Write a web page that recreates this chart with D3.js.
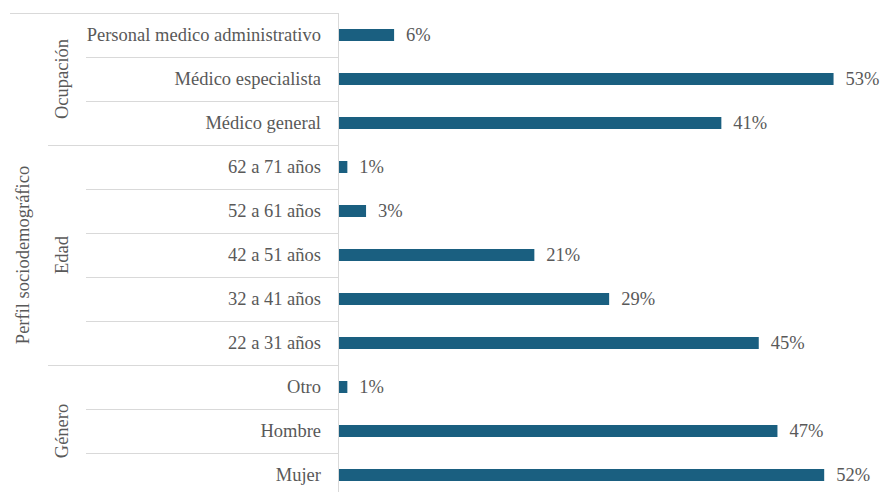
<!DOCTYPE html>
<html>
<head>
<meta charset="utf-8">
<script src="https://cdn.jsdelivr.net/npm/d3@7"></script>
<style>
  html, body { margin: 0; padding: 0; background: #fff; }
  svg { display: block; }
</style>
</head>
<body>
<svg id="chart" width="880" height="492"></svg>
<script>
// Data
const categories = ["Personal medico administrativo", "Médico especialista", "Médico general",
  "62 a 71 años", "52 a 61 años", "42 a 51 años", "32 a 41 años", "22 a 31 años",
  "Otro", "Hombre", "Mujer"];
const values = [0.06, 0.53, 0.41, 0.01, 0.03, 0.21, 0.29, 0.45, 0.01, 0.47, 0.52];
const groupNames = ["Ocupación", "Edad", "Género"];
const groupSizes = [3, 5, 3];
const outerLabel = "Perfil sociodemográfico";

(function () {
const FONT = "Liberation Serif";
const TEXTC = "#595959";
const FS = 18.5;
const svg = d3.select("#chart");
const axisX = 338, plotTop = 13, rowH = 44;
const plotBottom = plotTop + rowH * categories.length;

const x = d3.scaleLinear().domain([0, 0.6]).range([axisX, axisX + 0.6 * 935]);
const y = d3.scaleBand().domain(categories).range([plotTop, plotBottom]).paddingInner(0).paddingOuter(0);

const grid = svg.append("g").attr("stroke", "#d9d9d9").attr("stroke-width", 1);

let starts = [];
let acc = 0;
groupSizes.forEach(s => { starts.push(acc); acc += s; });

grid.append("line").attr("x1", 10).attr("x2", axisX).attr("y1", plotTop + 0.5).attr("y2", plotTop + 0.5);
for (let i = 1; i < categories.length; i++) {
  const isGroup = starts.includes(i);
  const yy = Math.round(y(categories[i])) + 0.5;
  grid.append("line").attr("x1", isGroup ? 48 : 86).attr("x2", axisX)
    .attr("y1", yy).attr("y2", yy);
}
grid.append("line").attr("x1", axisX + 0.5).attr("x2", axisX + 0.5).attr("y1", plotTop).attr("y2", plotBottom);

const barH = 12;
svg.append("g").selectAll("rect").data(values).join("rect")
  .attr("x", x(0) + 1)
  .attr("y", (d, i) => y(categories[i]) + y.bandwidth() / 2 - barH / 2)
  .attr("width", d => x(d) - x(0) - 1)
  .attr("height", barH)
  .attr("fill", "#1a5f80");

function txt(sel) {
  return sel.attr("font-family", FONT).attr("fill", TEXTC).attr("font-size", FS);
}

svg.append("g").selectAll("text").data(values).join("text")
  .call(txt)
  .attr("x", d => x(d) + 12)
  .attr("y", (d, i) => y(categories[i]) + y.bandwidth() / 2)
  .attr("dy", "0.35em")
  .text(d => Math.round(d * 100) + "%");

svg.append("g").selectAll("text").data(categories).join("text")
  .call(txt)
  .attr("x", 321)
  .attr("y", d => y(d) + y.bandwidth() / 2)
  .attr("dy", "0.35em")
  .attr("text-anchor", "end")
  .text(d => d);

groupNames.forEach((g, gi) => {
  const s = starts[gi], e = s + groupSizes[gi];
  const cy = (y(categories[s]) + y(categories[e - 1]) + y.bandwidth()) / 2;
  svg.append("text").call(txt)
    .attr("transform", `translate(62,${cy}) rotate(-90)`)
    .attr("dy", "0.35em")
    .attr("text-anchor", "middle")
    .text(g);
});

svg.append("text").call(txt)
  .attr("transform", `translate(23,${(plotTop + plotBottom) / 2}) rotate(-90)`)
  .attr("dy", "0.35em")
  .attr("text-anchor", "middle")
  .text(outerLabel);
})();
</script>
</body>
</html>
